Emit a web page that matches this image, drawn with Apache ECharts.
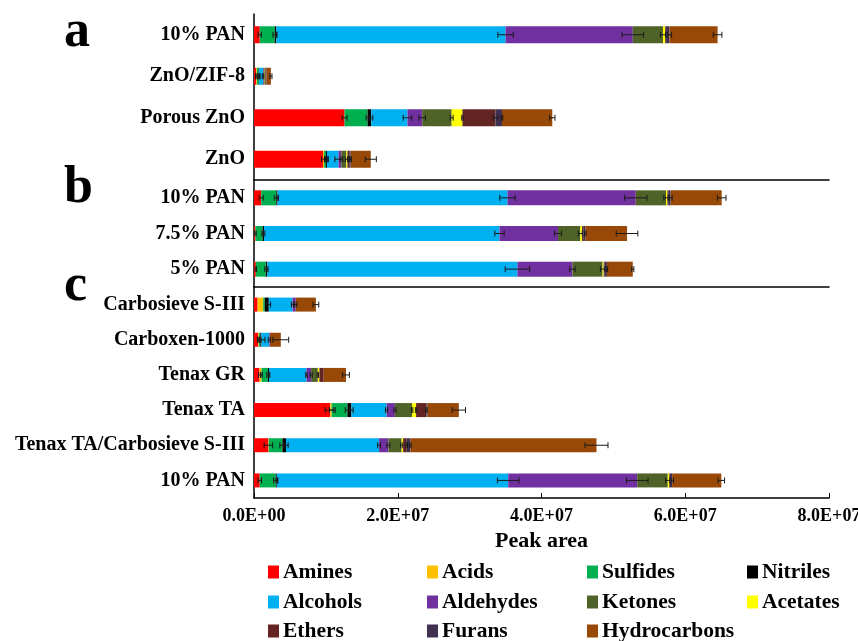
<!DOCTYPE html>
<html>
<head>
<meta charset="utf-8">
<script src="https://cdn.jsdelivr.net/npm/echarts@6/dist/echarts.min.js"></script>
<style>html,body{margin:0;padding:0;background:#fff}#c{width:858px;height:641px}</style>
</head>
<body>
<div id="c"></div>
<script>
// ---- Data ----
const categories = ["10% PAN","ZnO/ZIF-8","Porous ZnO","ZnO","10% PAN","7.5% PAN","5% PAN","Carbosieve S-III","Carboxen-1000","Tenax GR","Tenax TA","Tenax TA/Carbosieve S-III","10% PAN"];
const seriesNames = ["Amines","Acids","Sulfides","Nitriles","Alcohols","Aldehydes","Ketones","Acetates","Ethers","Furans","Hydrocarbons"];
const xTicks = [0, 2e7, 4e7, 6e7, 8e7];

const amines       = [0.8e6, 0.3e6, 12.6e6, 9.6e6, 1.0e6, 0.2e6, 0.25e6, 0.5e6, 0.58e6, 0.77e6, 10.6e6, 2.0e6, 0.8e6];
const acids        = [0, 0.1e6, 0, 0.15e6, 0, 0, 0, 0.78e6, 0.1e6, 0.28e6, 0.2e6, 0.05e6, 0];
const sulfides     = [2.1e6, 0.25e6, 3.2e6, 0.25e6, 2.1e6, 1.0e6, 1.4e6, 0.22e6, 0.2e6, 0.88e6, 2.2e6, 1.9e6, 2.23e6];
const nitriles     = [0.2e6, 0.05e6, 0.5e6, 0.15e6, 0.17e6, 0.2e6, 0.2e6, 0.56e6, 0.15e6, 0.17e6, 0.55e6, 0.5e6, 0.14e6];
const alcohols     = [31.9e6, 0.55e6, 5.05e6, 1.6e6, 32.0e6, 32.75e6, 34.8e6, 3.3e6, 1.1e6, 5.2e6, 4.9e6, 12.95e6, 32.2e6];
const aldehydes    = [17.7e6, 0.1e6, 2.05e6, 0.4e6, 17.85e6, 8.15e6, 7.65e6, 0.45e6, 0.1e6, 0.65e6, 1.15e6, 1.3e6, 17.95e6];
const ketones      = [4.2e6, 0.15e6, 4.1e6, 0.7e6, 4.2e6, 3.1e6, 4.2e6, 0, 0, 0.93e6, 2.4e6, 1.85e6, 4.25e6];
const acetates     = [0.3e6, 0.05e6, 1.5e6, 0.15e6, 0.2e6, 0.25e6, 0.15e6, 0, 0, 0.22e6, 0.55e6, 0.2e6, 0.2e6];
const ethers       = [0.1e6, 0.1e6, 4.6e6, 0.25e6, 0.1e6, 0.15e6, 0.1e6, 0, 0, 0.6e6, 1.45e6, 0.5e6, 0.1e6];
const furans       = [0.5e6, 0.1e6, 0.9e6, 0.2e6, 0.35e6, 0.3e6, 0.35e6, 0, 0, 0, 0.15e6, 0.5e6, 0.3e6];
const hydrocarbons = [6.7e6, 0.6e6, 7.0e6, 2.8e6, 7.1e6, 5.8e6, 3.6e6, 2.8e6, 1.5e6, 3.1e6, 4.35e6, 25.9e6, 6.85e6];

const aminesErr       = [0.23e6, 0.1e6, 0.35e6, 0.2e6, 0.28e6, 0.1e6, 0.1e6, 0, 0.1e6, 0.15e6, 0.7e6, 0.6e6, 0.25e6];
const acidsErr        = [0, 0, 0, 0, 0, 0, 0, 0, 0, 0.1e6, 0.3e6, 0, 0];
const sulfidesErr     = [0.25e6, 0.1e6, 0.2e6, 0.2e6, 0.28e6, 0.1e6, 0.15e6, 0, 0.1e6, 0.15e6, 0.3e6, 0.35e6, 0.3e6];
const nitrilesErr     = [0.1e6, 0.15e6, 0.23e6, 0.2e6, 0.1e6, 0.1e6, 0.1e6, 0.25e6, 0.5e6, 0.1e6, 0.25e6, 0.3e6, 0.1e6];
const alcoholsErr     = [1.07e6, 0.1e6, 0.6e6, 0.5e6, 1.07e6, 0.65e6, 1.7e6, 0.15e6, 0.15e6, 0.1e6, 0.15e6, 0.2e6, 1.5e6];
const aldehydesErr    = [1.5e6, 0, 0.46e6, 0.2e6, 1.55e6, 0.5e6, 0.37e6, 0.15e6, 0, 0.15e6, 0.15e6, 0.2e6, 1.5e6];
const ketonesErr      = [0.35e6, 0, 0.2e6, 0.15e6, 0.3e6, 0.28e6, 0.3e6, 0, 0, 0.1e6, 0.1e6, 0.15e6, 0.3e6];
const acetatesErr     = [0, 0, 0.1e6, 0, 0, 0, 0, 0, 0, 0, 0.1e6, 0, 0];
const ethersErr       = [0, 0, 0.32e6, 0.1e6, 0, 0, 0, 0, 0, 0, 0.1e6, 0.1e6, 0];
const furansErr       = [0.3e6, 0, 0.1e6, 0.1e6, 0.2e6, 0.1e6, 0.1e6, 0, 0, 0.1e6, 0, 0.1e6, 0.2e6];
const hydrocarbonsErr = [0.6e6, 0.15e6, 0.37e6, 0.77e6, 0.6e6, 1.5e6, 0.15e6, 0.4e6, 1.1e6, 0.47e6, 0.93e6, 1.6e6, 0.45e6];

// ---- Styling ----
const colors = ["#FF0000","#FFC000","#00B050","#000000","#00B0F0","#7030A0","#4F6228","#FFFF00","#632523","#403151","#984807"];
const values = [amines, acids, sulfides, nitriles, alcohols, aldehydes, ketones, acetates, ethers, furans, hydrocarbons];
const errors = [aminesErr, acidsErr, sulfidesErr, nitrilesErr, alcoholsErr, aldehydesErr, ketonesErr, acetatesErr, ethersErr, furansErr, hydrocarbonsErr];

const FONT = '"Liberation Serif","Times New Roman",serif';
const groups = [
  {start:0, end:4, top:14, height:166, barWidth:17},
  {start:4, end:7, top:180, height:107, barWidth:15},
  {start:7, end:13, top:287, height:211, barWidth:14}
];

function fmt(v){
  if (v === 0) return "0.0E+00";
  const e = Math.floor(Math.log10(v) + 1e-9);
  const m = v / Math.pow(10, e);
  return m.toFixed(1) + "E+" + String(e).padStart(2, "0");
}

const grids = [], xAxes = [], yAxes = [], series = [];
groups.forEach((g, gi) => {
  grids.push({left:254, right:29, top:g.top, height:g.height, containLabel:false, outerBoundsMode:'none'});
  const last = gi === groups.length - 1;
  xAxes.push({
    type:'value', gridIndex:gi, min:xTicks[0], max:xTicks[xTicks.length-1], interval:xTicks[1]-xTicks[0],
    splitLine:{show:false},
    axisLine:{show:true, lineStyle:{color:'#000', width:1.5}},
    axisTick:{show:last, inside:true, length:5, lineStyle:{color:'#000', width:1}},
    axisLabel:{show:last, formatter:fmt, color:'#000', fontFamily:FONT, fontWeight:'bold', fontSize:18, margin:9},
    name: last ? 'Peak area' : '', nameLocation:'middle', nameGap:32,
    nameTextStyle:{color:'#000', fontFamily:FONT, fontWeight:'bold', fontSize:22}
  });
  yAxes.push({
    type:'category', gridIndex:gi, inverse:true, data:categories.slice(g.start, g.end),
    axisLine:{show:true, lineStyle:{color:'#000', width:1.5}},
    axisTick:{show:false},
    axisLabel:{color:'#000', fontFamily:FONT, fontWeight:'bold', fontSize:20, margin:9}
  });
  seriesNames.forEach((name, si) => {
    series.push({
      type:'bar', name:name, stack:'s'+gi, xAxisIndex:gi, yAxisIndex:gi,
      barWidth:g.barWidth, data:values[si].slice(g.start, g.end),
      itemStyle:{color:colors[si]}, emphasis:{disabled:true}
    });
  });
  // error bars
  const errData = [];
  for (let r = g.start; r < g.end; r++) {
    let cum = 0;
    for (let si = 0; si < seriesNames.length; si++) {
      cum += values[si][r];
      const e = errors[si][r];
      if (e > 0 && values[si][r] > 0) errData.push([cum, r - g.start, e]);
    }
  }
  series.push({
    type:'custom', xAxisIndex:gi, yAxisIndex:gi, z:10, silent:true,
    encode:{x:0, y:1},
    data:errData,
    renderItem:function(params, api){
      const x = api.value(0), y = api.value(1), e = api.value(2);
      const p1 = api.coord([x - e, y]), p2 = api.coord([x + e, y]);
      const h = 3, st = {stroke:'#1a1a1a', lineWidth:1};
      return {type:'group', children:[
        {type:'line', shape:{x1:p1[0], y1:p1[1], x2:p2[0], y2:p2[1]}, style:st},
        {type:'line', shape:{x1:p1[0], y1:p1[1]-h, x2:p1[0], y2:p1[1]+h}, style:st},
        {type:'line', shape:{x1:p2[0], y1:p2[1]-h, x2:p2[0], y2:p2[1]+h}, style:st}
      ]};
    }
  });
});

// legend: 4 columns x 3 rows
const colX = [268, 427, 587, 747];
const rowY = [561, 591, 620];
const legends = seriesNames.map((name, i) => ({
  data:[name], left:colX[i % 4], top:rowY[Math.floor(i / 4)], padding:0,
  icon:'rect', itemWidth:11, itemHeight:13, itemGap:0, selectedMode:false,
  textStyle:{color:'#000', fontFamily:FONT, fontWeight:'bold', fontSize:21.5, padding:[0,0,0,-1]}
}));

const chart = echarts.init(document.getElementById('c'), null, {renderer:'canvas'});
chart.setOption({
  animation:false,
  backgroundColor:'#fff',
  grid:grids, xAxis:xAxes, yAxis:yAxes, series:series, legend:legends,
  graphic:[
    {type:'text', left:64, top:7, style:{text:'a', font:'bold 52px ' + FONT, fill:'#000'}},
    {type:'text', left:64, top:163, style:{text:'b', font:'bold 52px ' + FONT, fill:'#000'}},
    {type:'text', left:64, top:261, style:{text:'c', font:'bold 52px ' + FONT, fill:'#000'}}
  ]
});
</script>
</body>
</html>
